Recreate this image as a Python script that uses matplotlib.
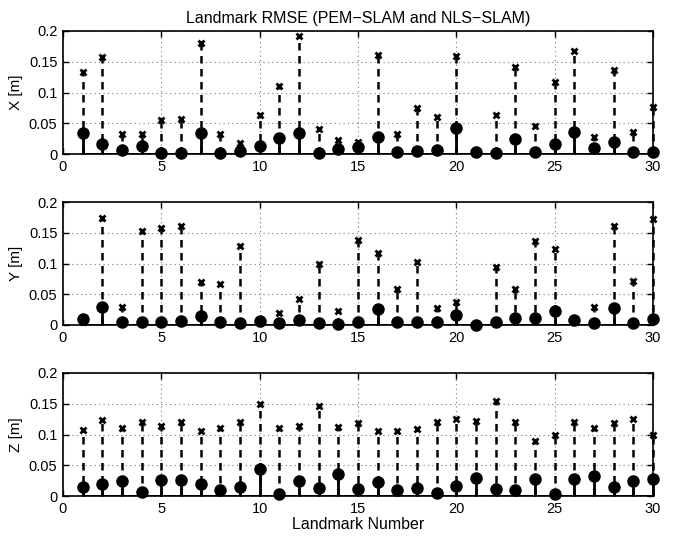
import matplotlib
matplotlib.use('Agg')
import matplotlib.pyplot as plt
import numpy as np

plt.rcParams['font.family'] = ['Liberation Sans', 'DejaVu Sans']
plt.rcParams['font.size'] = 10.5

landmarks = np.arange(1, 31)

# PEM-SLAM (solid stems, circles)
pem_x = [0.034, 0.017, 0.007, 0.0125, 0.001, 0.001, 0.034, 0.002, 0.005, 0.0125,
         0.0255, 0.034, 0.001, 0.008, 0.011, 0.028, 0.003, 0.005, 0.006, 0.043,
         0.004, 0.001, 0.024, 0.004, 0.017, 0.036, 0.009, 0.020, 0.004, 0.004]
pem_y = [0.009, 0.030, 0.005, 0.005, 0.005, 0.007, 0.015, 0.005, 0.003, 0.007,
         0.004, 0.008, 0.004, 0.002, 0.005, 0.026, 0.005, 0.005, 0.005, 0.017,
         0.0005, 0.005, 0.011, 0.012, 0.023, 0.008, 0.004, 0.028, 0.004, 0.010]
pem_z = [0.015, 0.020, 0.0245, 0.007, 0.0265, 0.026, 0.020, 0.009, 0.014, 0.0435,
         0.004, 0.024, 0.0135, 0.036, 0.011, 0.023, 0.010, 0.013, 0.005, 0.017,
         0.030, 0.011, 0.010, 0.028, 0.004, 0.028, 0.033, 0.015, 0.024, 0.028]

# NLS-SLAM (dashed stems, crosses)
nls_x = [0.133, 0.157, 0.032, 0.032, 0.055, 0.057, 0.180, 0.033, 0.018, 0.064,
         0.111, 0.192, 0.040, 0.023, 0.019, 0.161, 0.033, 0.075, 0.060, 0.160,
         0.003, 0.063, 0.142, 0.045, 0.117, 0.167, 0.028, 0.136, 0.035, 0.077]
nls_y = [0.005, 0.174, 0.030, 0.153, 0.157, 0.161, 0.070, 0.066, 0.129, 0.004,
         0.020, 0.042, 0.100, 0.022, 0.139, 0.117, 0.059, 0.102, 0.027, 0.0375,
         0.0003, 0.095, 0.058, 0.137, 0.124, 0.005, 0.029, 0.161, 0.072, 0.172]
nls_z = [0.107, 0.123, 0.110, 0.121, 0.114, 0.120, 0.1065, 0.111, 0.121, 0.150,
         0.110, 0.114, 0.146, 0.112, 0.119, 0.105, 0.106, 0.109, 0.120, 0.125,
         0.122, 0.154, 0.121, 0.089, 0.100, 0.121, 0.111, 0.118, 0.125, 0.099]

panels = [(pem_x, nls_x, 'X [m]'), (pem_y, nls_y, 'Y [m]'), (pem_z, nls_z, 'Z [m]')]
tops = [31, 202, 373]
W, H = 685, 536

fig = plt.figure(figsize=(6.85, 5.36), dpi=100)
for i, (pem, nls, lab) in enumerate(panels):
    top = tops[i]
    ax = fig.add_axes([63 / W, 1 - (top + 123) / H, 590 / W, 123 / H])
    ml, sl, bl = ax.stem(landmarks, nls, linefmt='k--', markerfmt='kx', basefmt='k-')
    sl.set_linewidth(1.8)
    sl.set_linestyle((0, (3, 2.2)))
    sl.set_clip_on(False)
    plt.setp(ml, markersize=4.5, markeredgewidth=2, clip_on=False)
    plt.setp(bl, linewidth=2)
    ml, sl, bl = ax.stem(landmarks, pem, linefmt='k-', markerfmt='ko', basefmt='k-')
    sl.set_linewidth(2)
    sl.set_clip_on(False)
    plt.setp(ml, markersize=8, clip_on=False, zorder=4)
    plt.setp(bl, linewidth=2)
    ax.set_xlim(0, 30)
    ax.set_ylim(0, 0.2)
    ax.set_xticks([0, 5, 10, 15, 20, 25, 30])
    ax.set_yticks([0, 0.05, 0.1, 0.15, 0.2])
    ax.set_yticklabels(['0', '0.05', '0.1', '0.15', '0.2'])
    ax.grid(True, linestyle=(0, (1, 3)), color='#777777', linewidth=0.8)
    ax.set_axisbelow(True)
    ax.tick_params(direction='in', length=4, width=1, top=True, right=True, pad=4)
    for s in ax.spines.values():
        s.set_linewidth(1.2)
    ax.set_ylabel(lab, fontsize=11, labelpad=4)
    if i == 0:
        ax.set_title('Landmark RMSE (PEM\u2212SLAM and NLS\u2212SLAM)', fontsize=11.5, pad=6)
    if i == 2:
        ax.set_xlabel('Landmark Number', fontsize=11.5, labelpad=1)

fig.savefig('out.png', dpi=100)
